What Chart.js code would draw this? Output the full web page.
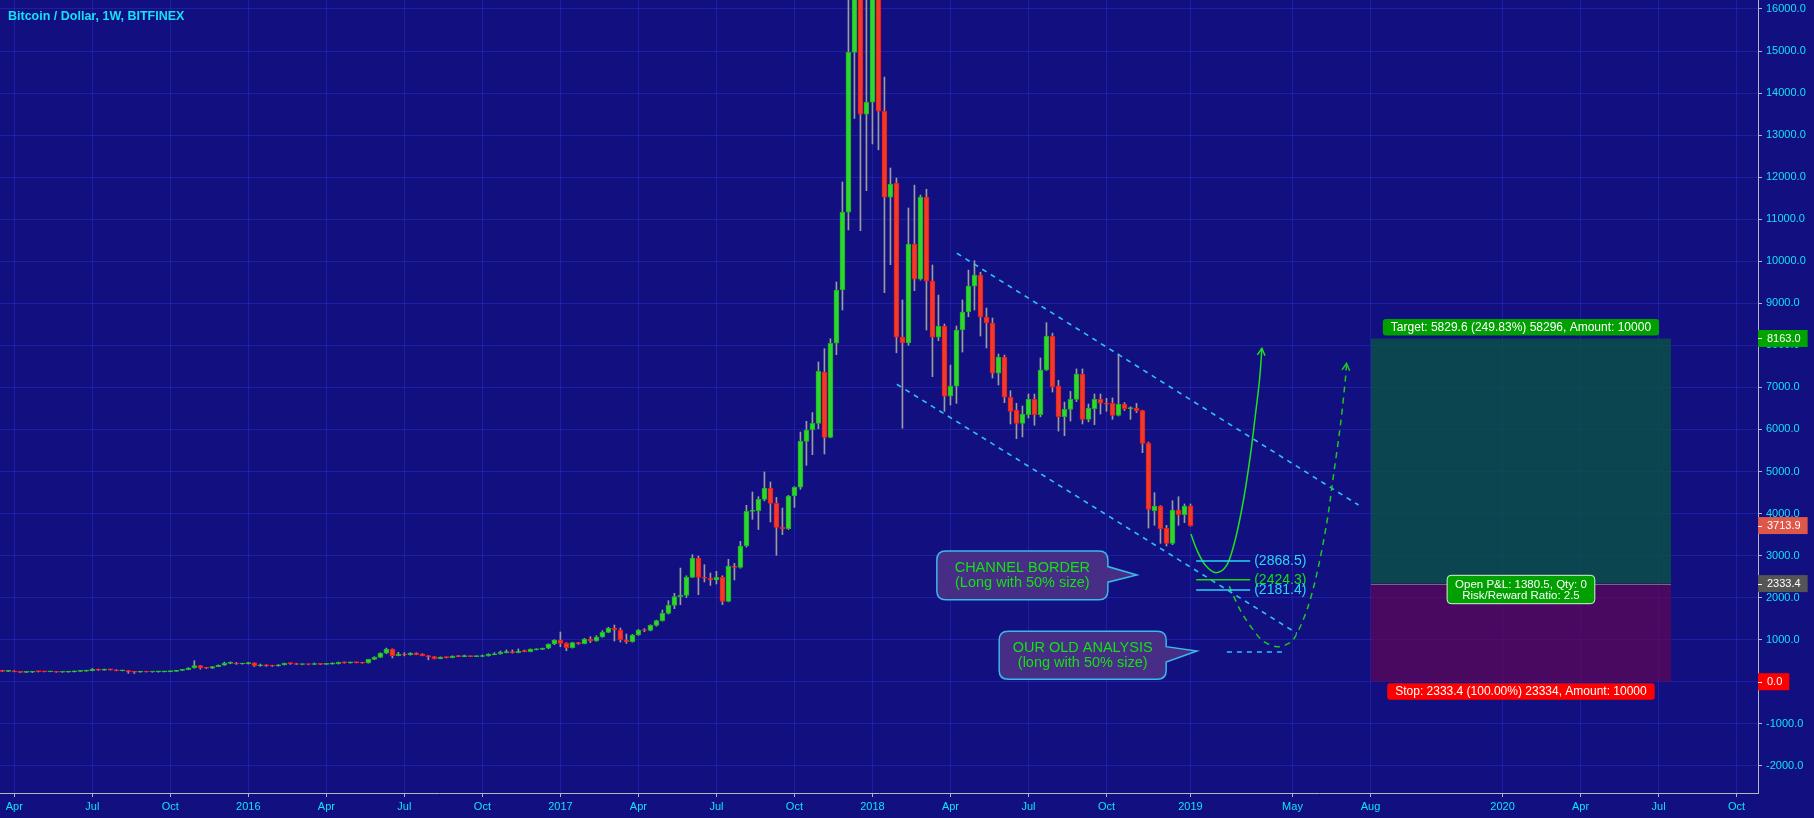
<!DOCTYPE html>
<html><head><meta charset="utf-8">
<script src="https://cdn.jsdelivr.net/npm/chart.js@4.4.0/dist/chart.umd.min.js"></script>
<style>html,body{margin:0;padding:0;background:#120f80;overflow:hidden}canvas{display:block}</style>
</head><body>
<canvas id="c" width="1814" height="818"></canvas>
<script>
// Weekly candles, Bitfinex BTC/USD, first week starting 2015-03-23 (index 0)
const firstWeek = '2015-03-23';
const opens = [
262,247,254,236,222,226,240,239,237,240,
226,228,234,244,250,260,293,274,289,281,
261,262,230,229,240,231,232,235,240,247,
269,285,325,385,330,324,360,392,436,440,
422,432,448,380,401,378,374,402,438,432,
410,418,410,416,414,420,428,462,448,460,
455,445,530,580,680,775,620,658,642,680,
658,620,595,547,583,571,611,598,611,598,
600,611,642,658,690,706,690,730,714,761,
770,795,896,992,913,809,928,904,1016,968,
1063,1174,1277,1230,992,952,1111,1230,1218,1341,
1451,1627,1817,2022,2055,2483,2942,2483,2460,2420,
2483,1912,2752,2720,3228,4053,4070,4338,4607,4243,
3672,3640,4417,4624,5718,5987,6146,7366,5813,8049,
9317,11167,14970,19000,13500,13785,16400,13570,11524,11857,
8195,8056,10410,9573,11524,9526,8195,8457,6792,7030,
8365,8794,9410,9673,8674,8532,7340,7720,6765,6462,
6146,6350,6717,6350,7414,8222,7032,6303,6478,6717,
7318,6241,6493,6717,6622,6622,6336,6605,6494,6510,
6446,5670,4067,4179,3656,3292,4084,3972,4179];
const highs = [
270,262,261,238,237,242,247,245,242,241,
231,238,253,252,268,315,300,300,299,285,
272,265,235,242,245,235,237,248,250,269,
294,334,500,390,342,364,400,465,470,457,
440,462,450,420,403,393,407,443,445,440,
425,422,444,425,425,452,468,470,466,463,
458,535,595,690,800,780,700,690,690,690,
665,625,600,590,590,615,627,635,615,615,
635,665,690,730,755,755,780,755,780,785,
801,900,1000,1182,930,940,935,1030,1070,1095,
1214,1293,1348,1277,1135,1125,1245,1262,1355,1465,
1705,1927,2103,2704,2520,3021,2990,2783,2585,2626,
2520,2911,2816,3339,4196,4512,4400,4988,4750,4386,
4131,4433,4640,5939,6193,6400,7605,7921,8158,9507,
11886,17200,19891,19100,16500,17250,17000,14380,12218,11980,
9080,11267,11810,11575,11713,9910,9196,8508,7532,8460,
9080,9790,10013,9740,8888,8650,7794,7770,6921,6622,
6557,6843,6843,7700,8540,8290,7170,6650,6905,7440,
7440,6605,6843,6843,6740,6750,7795,6640,6540,6620,
6458,5700,4495,4190,3720,4305,4400,4227,4227];
const lows = [
237,240,234,215,218,217,231,233,235,223,
222,226,232,240,248,258,268,272,275,258,
257,200,196,225,228,225,225,233,235,245,
264,282,322,298,313,315,356,388,427,412,
417,420,360,368,365,363,370,399,413,405,
403,402,405,405,410,418,420,440,440,448,
438,440,525,575,665,565,615,615,632,640,
615,520,540,545,565,568,595,595,595,595,
597,608,640,655,685,680,685,710,710,755,
765,785,880,832,737,800,890,900,930,960,
1055,1165,968,943,913,940,1100,1190,1210,1320,
1440,1610,1736,1832,2000,2480,2069,2371,2290,2324,
1832,1900,2420,2700,3200,3863,3620,4300,3800,3006,
3497,3620,4147,4576,5147,5400,6018,5416,5800,7778,
8841,10744,13400,10727,11679,12790,12650,9253,9918,7825,
6030,8000,9300,9550,8365,7254,8110,6430,6580,6620,
7840,8680,8840,8222,7937,7223,7057,6636,6130,5780,
5820,6273,6099,6300,7400,6890,5960,5850,6200,6660,
6130,6180,6114,6366,6430,6240,6320,6450,6240,6400,
5447,3655,3720,3290,3228,3260,3720,3782,3700];
const closes = [
247,254,236,222,226,240,239,237,240,226,
228,234,244,250,260,293,274,289,281,261,
262,230,229,240,231,232,235,240,247,269,
285,325,385,330,324,360,392,436,440,422,
432,448,380,401,378,374,402,438,432,410,
418,410,416,414,420,428,462,448,460,455,
445,530,580,680,775,620,658,635,680,642,
620,587,547,583,571,611,598,611,598,611,
611,658,658,706,706,690,730,714,777,777,
795,896,992,913,809,928,904,1016,968,1063,
1174,1277,1230,992,952,1111,1230,1218,1341,1451,
1627,1817,2022,2055,2483,2942,2483,2460,2420,2483,
1912,2752,2720,3228,4053,4070,4338,4607,4243,3672,
3640,4417,4624,5718,5987,6146,7383,5813,8049,9317,
11167,14970,19000,13500,13785,16400,13570,11524,11833,8195,
8056,10410,9573,11524,9526,8195,8457,6792,7030,8365,
8794,9410,9673,8674,8532,7340,7720,6765,6431,6146,
6367,6717,6350,7414,8222,7017,6303,6478,6717,7318,
6241,6510,6717,6622,6600,6336,6605,6494,6510,6446,
5670,4100,4179,3639,3292,4084,3972,4179,3713.9];

// x axis ticks (week index) and labels
const xTickPositions = [2,15,28,41,54,67,80,93,106,119,132,145,158,171,184,198,215,228,250,263,276,289];
const xTickLabels = ['Apr','Jul','Oct','2016','Apr','Jul','Oct','2017','Apr','Jul','Oct','2018','Apr','Jul','Oct','2019','May','Aug','2020','Apr','Jul','Oct'];
const yTickValues = [-2000,-1000,0,1000,2000,3000,4000,5000,6000,7000,8000,9000,10000,11000,12000,13000,14000,15000,16000];

// drawings (in week index / price units)
const upperChannel = [[159.07,10190],[226.0,4203]];
const lowerChannel = [[149.07,7074],[215.73,1151]];
const projectionCurve = [[198.07,3513],[199.07,3132],[200.45,2776],[202.28,2593],[204.07,2776],[205.45,3370],[206.83,4322],[207.95,5352],[208.78,6303],[209.5,7176],[209.9,7929]];
const oldAnalysisCurve = [[204.45,2274],[206.3,1700],[208.2,1280],[210.1,968],[212.4,832],[214.2,900],[215.45,1070],[217.4,1705],[219.07,2578],[220.7,3768],[221.8,4876],[222.95,6065],[223.8,7176],[224.0,7573]];
const oldTargetLine = [[204.07,706],[214.07,706]];
const levelValues = [2868.5, 2424.3, 2181.4];
const levelColors = ['#2ad4f8','#10e010','#2ad4f8'];
const levelRange = [198.95, 207.95];
const positionRange = [228.07, 278.07];
const positionTarget = 8163.0, positionEntry = 2333.4, positionStop = 0.0;
const positionTexts = ['Target: 5829.6 (249.83%) 58296, Amount: 10000','Open P&L: 1380.5, Qty: 0','Risk/Reward Ratio: 2.5','Stop: 2333.4 (100.00%) 23334, Amount: 10000'];
const callouts = [
  {box:[155.73,3109,184.23,1950], tip:[189.07,2538], lines:['CHANNEL BORDER','(Long with 50% size)']},
  {box:[166.12,1199,193.95,57], tip:[199.07,730], lines:['OUR OLD ANALYSIS','(long with 50% size)']}
];
const axisMarkers = [
  {v:8163.0, bg:'#00a300'},
  {v:3713.9, bg:'#df5748'},
  {v:2333.4, bg:'#555555'},
  {v:0.0, bg:'#ff0000'}
];
const titleText = 'Bitcoin / Dollar, 1W, BITFINEX';

const FONT = '"Liberation Sans", Arial, sans-serif';
const CYAN = '#12e2f6';
const BG = '#120f80';
const GRID = 'rgba(45,55,210,0.42)';
const AXIS = '#b4b4c4';
const UP_FILL = '#2fd62f', UP_LINE = '#17b417', DN_FILL = '#ea3d2c', DN_LINE = '#ff1010';

const bodies = opens.map((o,i)=>({x:i, y:[o, closes[i]]}));
const wicks = opens.map((o,i)=>({x:i, y:[lows[i], highs[i]]}));
const isUp = i => closes[i] >= opens[i];

function smoothPath(ctx, pts){
  ctx.moveTo(pts[0][0], pts[0][1]);
  for (let k=0;k<pts.length-1;k++){
    const p0 = pts[k-1]||pts[k], p1=pts[k], p2=pts[k+1], p3=pts[k+2]||pts[k+1];
    const c1=[p1[0]+(p2[0]-p0[0])/6, p1[1]+(p2[1]-p0[1])/6];
    const c2=[p2[0]-(p3[0]-p1[0])/6, p2[1]-(p3[1]-p1[1])/6];
    ctx.bezierCurveTo(c1[0],c1[1],c2[0],c2[1],p2[0],p2[1]);
  }
}
function arrowHead(ctx, prev, tip, len){
  const a = Math.atan2(tip[1]-prev[1], tip[0]-prev[0]);
  ctx.beginPath();
  ctx.moveTo(tip[0]-len*Math.cos(a-0.5), tip[1]-len*Math.sin(a-0.5));
  ctx.lineTo(tip[0], tip[1]);
  ctx.lineTo(tip[0]-len*Math.cos(a+0.5), tip[1]-len*Math.sin(a+0.5));
  ctx.stroke();
}
function rrect(ctx,x,y,w,h,r){
  ctx.beginPath();
  ctx.moveTo(x+r,y);ctx.lineTo(x+w-r,y);ctx.quadraticCurveTo(x+w,y,x+w,y+r);
  ctx.lineTo(x+w,y+h-r);ctx.quadraticCurveTo(x+w,y+h,x+w-r,y+h);
  ctx.lineTo(x+r,y+h);ctx.quadraticCurveTo(x,y+h,x,y+h-r);
  ctx.lineTo(x,y+r);ctx.quadraticCurveTo(x,y,x+r,y);ctx.closePath();
}

const bgPlugin = {
  id:'bg',
  beforeDraw(chart){
    const c=chart.ctx; c.save(); c.fillStyle=BG; c.fillRect(0,0,chart.width,chart.height); c.restore();
  },
  beforeDatasetsDraw(chart){
    const c=chart.ctx, xs=chart.scales.x, ys=chart.scales.y;
    const x1=xs.getPixelForValue(positionRange[0]), x2=xs.getPixelForValue(positionRange[1]);
    const yt=ys.getPixelForValue(positionTarget), ye=ys.getPixelForValue(positionEntry), yb=ys.getPixelForValue(positionStop);
    c.save();
    c.fillStyle='rgba(10,80,70,0.84)'; c.fillRect(x1,yt,x2-x1,ye-yt);
    c.fillStyle='rgba(95,8,85,0.74)'; c.fillRect(x1,ye,x2-x1,yb-ye);
    c.strokeStyle='#6b6b80'; c.lineWidth=1; c.beginPath(); c.moveTo(x1,Math.round(ye)+0.5); c.lineTo(x2,Math.round(ye)+0.5); c.stroke();
    c.restore();
  }
};

const drawPlugin = {
  id:'drawings',
  afterDatasetsDraw(chart){
    const c=chart.ctx, xs=chart.scales.x, ys=chart.scales.y;
    const P = p => [xs.getPixelForValue(p[0]), ys.getPixelForValue(p[1])];
    c.save();
    c.beginPath(); c.rect(chart.chartArea.left, chart.chartArea.top, chart.chartArea.right-chart.chartArea.left, chart.chartArea.bottom-chart.chartArea.top); c.clip();
    // channel lines
    c.strokeStyle='#2cc3ee'; c.lineWidth=1.6; c.setLineDash([5,5]);
    [upperChannel, lowerChannel, oldTargetLine].forEach(l=>{
      const a=P(l[0]), b=P(l[1]); c.beginPath(); c.moveTo(a[0],a[1]); c.lineTo(b[0],b[1]); c.stroke();
    });
    // old analysis dashed curve
    c.strokeStyle='#1cc81c'; c.lineWidth=1.5; c.setLineDash([6,5]);
    let pts=oldAnalysisCurve.map(P); c.beginPath(); smoothPath(c,pts); c.stroke();
    c.setLineDash([]); arrowHead(c, pts[pts.length-3], pts[pts.length-1], 8);
    // projection curve
    c.strokeStyle='#1ee01e'; c.lineWidth=1.5;
    pts=projectionCurve.map(P); c.beginPath(); smoothPath(c,pts); c.stroke();
    arrowHead(c, pts[pts.length-3], pts[pts.length-1], 8);
    // level lines
    levelValues.forEach((v,k)=>{
      const a=P([levelRange[0],v]), b=P([levelRange[1],v]);
      c.strokeStyle=levelColors[k]; c.lineWidth=1.5; c.beginPath(); c.moveTo(a[0],a[1]); c.lineTo(b[0],b[1]); c.stroke();
      c.fillStyle=levelColors[k]; c.font='14px '+FONT; c.textBaseline='middle'; c.textAlign='left';
      c.fillText('('+v.toFixed(1)+')', b[0]+4, a[1]+0.5);
    });
    // callouts
    callouts.forEach(co=>{
      const tl=P([co.box[0],co.box[1]]), br=P([co.box[2],co.box[3]]), tip=P(co.tip);
      const x=tl[0], y=tl[1], w=br[0]-tl[0], h=br[1]-tl[1], r=9;
      const py1=y+h*0.32, py2=y+h*0.64;
      c.beginPath();
      c.moveTo(x+r,y); c.lineTo(x+w-r,y); c.quadraticCurveTo(x+w,y,x+w,y+r);
      c.lineTo(x+w,py1); c.lineTo(tip[0],tip[1]); c.lineTo(x+w,py2);
      c.lineTo(x+w,y+h-r); c.quadraticCurveTo(x+w,y+h,x+w-r,y+h);
      c.lineTo(x+r,y+h); c.quadraticCurveTo(x,y+h,x,y+h-r);
      c.lineTo(x,y+r); c.quadraticCurveTo(x,y,x+r,y); c.closePath();
      c.fillStyle='#472d86'; c.fill();
      c.strokeStyle='#39b9ea'; c.lineWidth=1.5; c.stroke();
      c.fillStyle='#14e014'; c.font='14.5px '+FONT; c.textAlign='center'; c.textBaseline='middle';
      c.fillText(co.lines[0], x+w/2, y+h/2-7.2);
      c.fillText(co.lines[1], x+w/2, y+h/2+7.6);
    });
    c.restore();
  },
  afterDraw(chart){
    const c=chart.ctx, xs=chart.scales.x, ys=chart.scales.y;
    c.save();
    // title
    c.fillStyle=CYAN; c.font='bold 12.5px '+FONT; c.textAlign='left'; c.textBaseline='middle';
    c.fillText(titleText, 8, 17);
    // position tool labels
    const x1=xs.getPixelForValue(positionRange[0]), x2=xs.getPixelForValue(positionRange[1]), xm=(x1+x2)/2;
    const yt=ys.getPixelForValue(positionTarget), ye=ys.getPixelForValue(positionEntry), yb=ys.getPixelForValue(positionStop);
    c.font='12px '+FONT; c.textAlign='center';
    let w=c.measureText(positionTexts[0]).width+16;
    rrect(c,xm-w/2,yt-19.5,w,16.5,3); c.fillStyle='#00a000'; c.fill();
    c.fillStyle='#ffffff'; c.fillText(positionTexts[0], xm, yt-11);
    w=c.measureText(positionTexts[3]).width+16;
    rrect(c,xm-w/2,yb+1.5,w,16.5,3); c.fillStyle='#ff0000'; c.fill();
    c.fillStyle='#ffffff'; c.fillText(positionTexts[3], xm, yb+10);
    c.font='11.5px '+FONT;
    w=Math.max(c.measureText(positionTexts[1]).width,c.measureText(positionTexts[2]).width)+16;
    const bt=ye-8.3;
    rrect(c,xm-w/2,bt,w,28.4,4); c.fillStyle='#00a000'; c.fill();
    c.strokeStyle='#d8f5d8'; c.lineWidth=1; c.stroke();
    c.fillStyle='#ffffff'; c.fillText(positionTexts[1], xm, bt+9.4); c.fillText(positionTexts[2], xm, bt+20.4);
    // axis price markers
    const ax=chart.chartArea.right;
    c.font='11px '+FONT; c.textAlign='left';
    axisMarkers.forEach(m=>{
      const y=ys.getPixelForValue(m.v), t=m.v.toFixed(1);
      const tw=c.measureText(t).width;
      c.fillStyle=m.bg; c.fillRect(ax, y-8.5, tw+16, 17);
      c.strokeStyle='#ffffff'; c.lineWidth=1; c.beginPath(); c.moveTo(ax,Math.round(y)+0.5); c.lineTo(ax+4,Math.round(y)+0.5); c.stroke();
      c.fillStyle='#ffffff'; c.fillText(t, ax+9, y+0.5);
    });
    c.restore();
  }
};

Chart.defaults.font.family = FONT;
new Chart(document.getElementById('c'), {
  type:'bar',
  data:{datasets:[
    {label:'wick', data:wicks, backgroundColor:'#9c9c9c', borderWidth:0, barThickness:1, grouped:false, order:2},
    {label:'body', data:bodies,
     backgroundColor: ctx=>isUp(ctx.dataIndex)?UP_FILL:DN_FILL,
     borderColor: ctx=>isUp(ctx.dataIndex)?UP_LINE:DN_LINE,
     borderWidth:1, borderSkipped:false, barThickness:5, minBarLength:1, grouped:false, order:1}
  ]},
  options:{
    responsive:false, animation:false, devicePixelRatio:1, events:[],
    layout:{padding:0},
    plugins:{legend:{display:false}, tooltip:{enabled:false}},
    scales:{
      x:{type:'linear', min:-0.383, max:292.57, offset:false,
         grid:{offset:false, color:GRID, lineWidth:1, drawTicks:true, tickLength:4, tickColor:AXIS},
         border:{display:true, color:AXIS, width:1},
         ticks:{color:CYAN, font:{size:11}, padding:3, maxRotation:0, autoSkip:false,
                callback:(v,idx)=>xTickLabels[idx]},
         afterBuildTicks:s=>{ s.ticks = xTickPositions.map(v=>({value:v})); },
         afterFit:s=>{ s.height=25; s.paddingLeft=0; s.paddingRight=0; }},
      y:{type:'linear', position:'right', min:-2647, max:16214,
         grid:{color:GRID, lineWidth:1, drawTicks:true, tickLength:4, tickColor:AXIS},
         border:{display:true, color:AXIS, width:1},
         ticks:{color:CYAN, font:{size:11}, padding:4, callback:v=>Number(v).toFixed(1)},
         afterBuildTicks:s=>{ s.ticks = yTickValues.map(v=>({value:v})); },
         afterFit:s=>{ s.width=56; s.paddingTop=0; s.paddingBottom=0; }}
    }
  },
  plugins:[bgPlugin, drawPlugin]
});
</script>
</body></html>
